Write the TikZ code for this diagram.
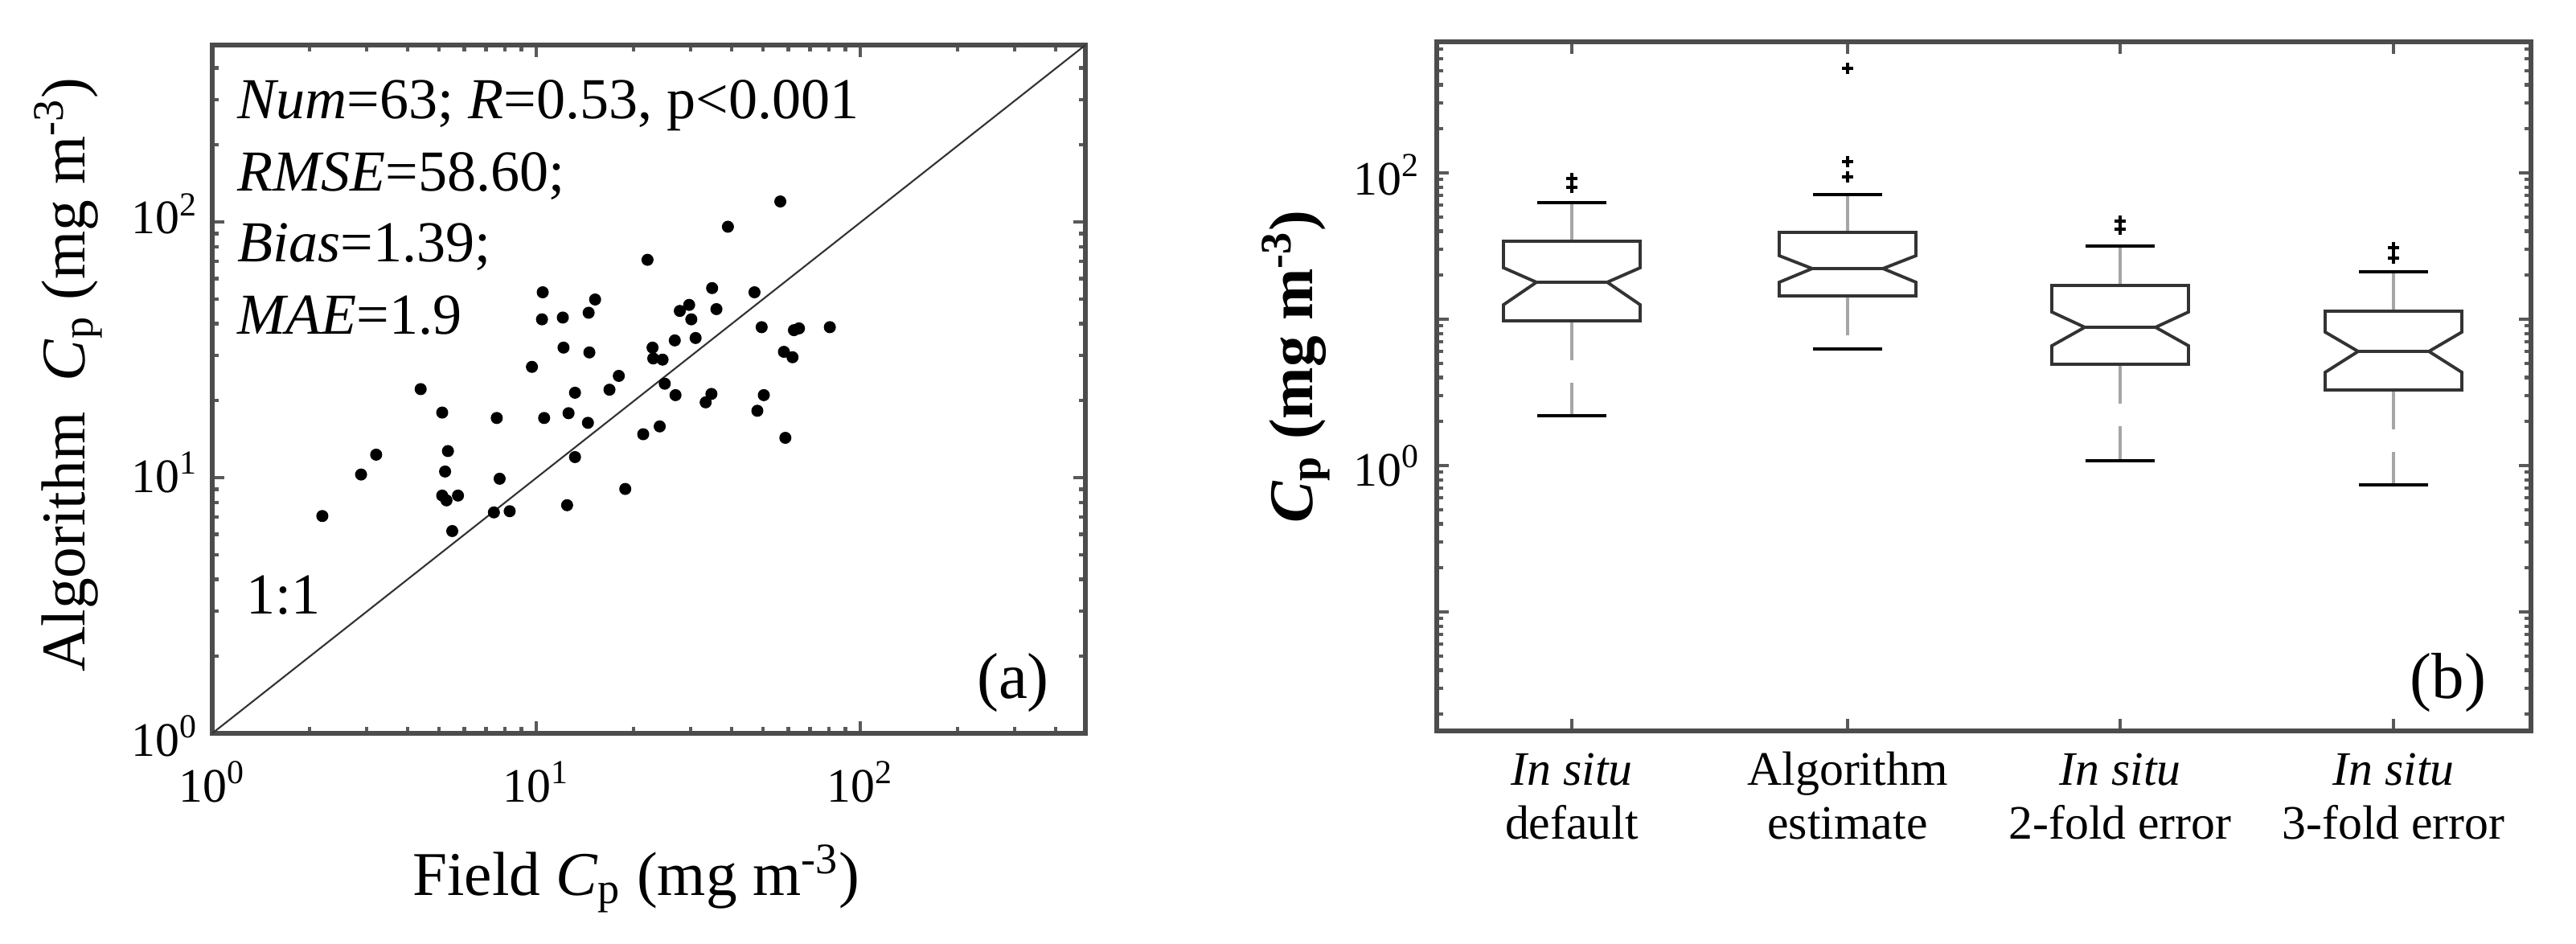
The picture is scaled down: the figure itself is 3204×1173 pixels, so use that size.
\documentclass[tikz,border=0pt]{standalone}
\usepackage{fontspec}
\setmainfont{Liberation Serif}
\begin{document}
\begin{tikzpicture}[x=0.01cm,y=-0.01cm,
  frame/.style={draw=black!70,line width=1.6pt},
  tk/.style={draw=black!65,line width=1.2pt},
  boxl/.style={draw=black!80,line width=1.1pt},
  whisk/.style={draw=black!35,line width=1.1pt,dash pattern=on 14pt off 8pt},
  capl/.style={draw=black,line width=1.4pt},
  ticklab/.style={font=\fontsize{17}{20}\selectfont,inner sep=0pt},
  axlab/.style={font=\fontsize{22}{26}\selectfont,inner sep=0pt},
  stat/.style={font=\fontsize{20.5}{24}\selectfont,inner sep=0pt,anchor=base west},
  catlab/.style={font=\fontsize{17}{19}\selectfont,inner sep=0pt,anchor=base,align=center}]
\useasboundingbox (0,0) rectangle (3204,1173);
\fill[white] (0,0) rectangle (3204,1173);
% ================= panel (a) =================
\foreach \k in {0,1,2}{\foreach \m in {1,...,9}{
  \pgfmathsetmacro\xx{264+403*(\k+log10(\m))}
  \pgfmathsetmacro\ll{\m==1?15:8}
  \pgfmathparse{\xx<1350?1:0}
  \ifnum\pgfmathresult=1
    \draw[tk] (\xx,912) -- (\xx,912-\ll);
    \draw[tk] (\xx,56) -- (\xx,56+\ll);
  \fi
  \pgfmathsetmacro\yy{912-318*(\k+log10(\m))}
  \pgfmathparse{\yy>56?1:0}
  \ifnum\pgfmathresult=1
    \draw[tk] (264,\yy) -- (264+\ll,\yy);
    \draw[tk] (1350,\yy) -- (1350-\ll,\yy);
  \fi
}}
\draw[frame] (264,56) rectangle (1350,912);
\draw[black!80,line width=0.6pt] (264,912) -- (1350,56);
\foreach \a/\b in {449/858,503/789,524/756,586/647,616/686,620/784,624/750,616/824,622/832,630/883,638/824,692/695,688/852,696/796,710/850,741/610,756/486,755/531,758/695,784/528,785/578,792/687,790/840,801/760,801/653,819/703,821/586,820/520,829/498,849/648,862/625,871/813,896/722,902/432,909/578,910/596,923/598,926/638,919/709,941/657,940/566,947/517,960/507,963/531,969/562,983/669,992/479,991/655,998/514,1014/377,1051/486,1055/683,1061/544,1064/657,1087/335,1092/585,1094/728,1104/594,1106/549,1113/546,1156/544}
  \fill ({\a/1.12},{\b/1.337}) circle (0.075cm);
\node[ticklab,anchor=base] (ax0) at (264,997) {10\textsuperscript{0}};
\node[ticklab,anchor=base] (ax1) at (667,997) {10\textsuperscript{1}};
\node[ticklab,anchor=base] (ax2) at (1070,997) {10\textsuperscript{2}};
\node[ticklab,anchor=base east] (ay0) at (247,940) {10\textsuperscript{0}};
\node[ticklab,anchor=base east] (ay1) at (247,612) {10\textsuperscript{1}};
\node[ticklab,anchor=base east] (ay2) at (247,291) {10\textsuperscript{2}};
\node[axlab,anchor=base] (xla) at (791,1113) {Field \textit{C}\textsubscript{p} (mg m\textsuperscript{-3})};
\node[axlab,anchor=base,rotate=90] (yla) at (105,466) {Algorithm \ \textit{C}\textsubscript{p} (mg m\textsuperscript{-3})};
\node[stat] (s1) at (295,148) {\textit{Num}=63; \textit{R}=0.53, p<0.001};
\node[stat] (s2) at (295,238) {\textit{RMSE}=58.60;};
\node[stat] (s3) at (295,325) {\textit{Bias}=1.39;};
\node[stat] (s4) at (295,415) {\textit{MAE}=1.9};
\node[stat] (one) at (306,763) {1:1};
\node[axlab,anchor=base,font=\fontsize{23}{28}\selectfont] (la) at (1260,868) {(a)};
% ================= panel (b) =================
\foreach \k in {-2,-1,0,1,2}{\foreach \m in {1,...,9}{
  \pgfmathsetmacro\yy{579-182*(\k+log10(\m))}
  \pgfmathsetmacro\ll{\m==1?15:8}
  \pgfmathparse{(\yy>52)&&(\yy<909)?1:0}
  \ifnum\pgfmathresult=1
    \draw[tk] (1787,\yy) -- (1787+\ll,\yy);
    \draw[tk] (3148,\yy) -- (3148-\ll,\yy);
  \fi
}}
\foreach \c in {1955,2298,2637,2977}{
  \draw[tk] (\c,909) -- (\c,894);
  \draw[tk] (\c,52) -- (\c,67);
}
\draw[frame] (1787,52) rectangle (3148,909);
\foreach \c/\t/\na/\md/\nb/\bt/\wt/\wb in {
  1955/300/333/351/379/399/252/517,
  2298/289/318/334/351/368/242/434,
  2637/355/388/407/430/453/306/573,
  2977/387/413/437/463/485/338/603}{
  \draw[whisk] (\c,\wt) -- (\c,\t);
  \draw[whisk] (\c,\bt) -- (\c,\wb);
  \draw[capl] (\c-43,\wt) -- (\c+43,\wt);
  \draw[capl] (\c-43,\wb) -- (\c+43,\wb);
  \draw[boxl] (\c-85,\t) -- (\c+85,\t) -- (\c+85,\na) -- (\c+44,\md) -- (\c+85,\nb) -- (\c+85,\bt)
     -- (\c-85,\bt) -- (\c-85,\nb) -- (\c-44,\md) -- (\c-85,\na) -- cycle;
  \draw[boxl] (\c-44,\md) -- (\c+44,\md);
}
\foreach \c/\y in {1955/222,1955/233,2298/85,2298/201,2298/220,2637/275,2637/285,2977/308,2977/321}{
  \draw[black,line width=0.9pt] (\c-7,\y) -- (\c+7,\y) (\c,\y-7) -- (\c,\y+7);
}
\node[ticklab,anchor=base east] (by2) at (1767,242) {10\textsuperscript{2}};
\node[ticklab,anchor=base east] (by0) at (1767,604) {10\textsuperscript{0}};
\node[axlab,anchor=base,rotate=90,font=\fontsize{22}{26}\selectfont\bfseries] (ylb) at (1632,456) {\textit{C}\textsubscript{p} (mg m\textsuperscript{-3})};
\node[catlab] (c1) at (1955,1043) {\textit{In situ}\\default};
\node[catlab] (c2) at (2298,1043) {Algorithm\\estimate};
\node[catlab] (c3) at (2637,1043) {\textit{In situ}\\2-fold error};
\node[catlab] (c4) at (2977,1043) {\textit{In situ}\\3-fold error};
\node[axlab,anchor=base,font=\fontsize{23}{28}\selectfont] (lb) at (3045,868) {(b)};
\end{tikzpicture}
\end{document}
